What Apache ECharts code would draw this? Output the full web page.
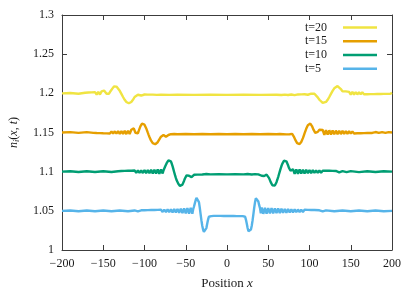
<!DOCTYPE html>
<html><head><meta charset="utf-8">
<script src="https://cdn.jsdelivr.net/npm/echarts@6/dist/echarts.min.js"></script>
<style>html,body{margin:0;padding:0;background:#fff}#c{width:415px;height:291px}</style>
</head><body><div id="c"></div>
<script>
const seriesNames = ['t=20', 't=15', 't=10', 't=5'];
const xTicks = [-200, -150, -100, -50, 0, 50, 100, 150, 200];
const yTicks = [1, 1.05, 1.1, 1.15, 1.2, 1.25, 1.3];

const t20 = [[-200,1.2],[-190,1.2005],[-180,1.1995],[-172,1.2008],[-170,1.1992],[-168,1.201],[-166,1.199],[-164,1.2012],[-162,1.1988],[-160,1.2015],[-158,1.1985],[-156,1.2018],[-154,1.1985],[-152,1.2025],[-151,1.2035],[-150,1.204],[-149,1.2035],[-148,1.2025],[-147,1.201],[-146,1.1995],[-145,1.1985],[-144,1.1985],[-143,1.1995],[-142,1.2015],[-141,1.203],[-140,1.2045],[-139,1.206],[-138,1.2075],[-137,1.2087],[-136,1.2093],[-135,1.209],[-134,1.2086],[-132,1.2064],[-130,1.2032],[-128,1.1993],[-126,1.1953],[-124,1.1917],[-122,1.189],[-120,1.1875],[-119,1.1873],[-118,1.1875],[-116,1.189],[-114,1.1917],[-112,1.1953],[-110,1.1975],[-108,1.1982],[-106,1.1978],[-104,1.1972],[-102,1.1978],[-100,1.1985],[-98,1.1978],[-96,1.1984],[-94,1.1979],[-90,1.1983],[-85,1.198],[-80,1.1982],[-70,1.198],[-60,1.1981],[-40,1.198],[-20,1.1981],[0,1.198],[20,1.1981],[40,1.198],[60,1.1981],[66,1.1979],[70,1.1984],[74,1.1978],[78,1.1985],[82,1.1977],[86,1.1986],[88,1.1976],[90,1.1987],[92,1.1976],[94,1.1988],[96,1.1978],[98,1.1982],[100,1.1988],[102,1.1995],[104,1.2001],[106,1.1995],[108,1.1975],[110,1.1948],[112,1.1918],[114,1.1893],[116,1.1877],[117,1.1873],[118,1.1875],[120,1.189],[122,1.1917],[124,1.1953],[126,1.1993],[128,1.2032],[130,1.2064],[132,1.2086],[134,1.2093],[136,1.2082],[138,1.2055],[140,1.2025],[142,1.2012],[144,1.2025],[145,1.2035],[146,1.2025],[148,1.2018],[150,1.1985],[152,1.2018],[154,1.1985],[156,1.2016],[158,1.1986],[160,1.2015],[162,1.1987],[164,1.2014],[166,1.1988],[168,1.2013],[170,1.1989],[172,1.2012],[174,1.199],[176,1.201],[178,1.199],[180,1.201],[182,1.1991],[184,1.2009],[186,1.1992],[188,1.2008],[190,1.1993],[192,1.2007],[194,1.1993],[196,1.2007],[198,1.1994],[200,1.2006]];

const t15 = [[-200,1.15],[-190,1.1505],[-180,1.1495],[-170,1.1505],[-162,1.1495],[-160,1.1507],[-158,1.1493],[-156,1.1508],[-154,1.1492],[-152,1.151],[-150,1.149],[-148,1.1511],[-146,1.1489],[-144,1.1512],[-142,1.1488],[-140,1.1514],[-138,1.1486],[-136,1.1515],[-134,1.1485],[-132,1.1517],[-130,1.1483],[-128,1.1518],[-126,1.1482],[-124,1.152],[-122,1.148],[-120,1.1522],[-118,1.148],[-116,1.1535],[-115,1.155],[-114,1.1558],[-113,1.1552],[-112,1.153],[-111,1.1497],[-110,1.1475],[-109,1.1472],[-108,1.149],[-107,1.152],[-106,1.155],[-105,1.1578],[-104,1.16],[-103,1.1612],[-102,1.1617],[-101,1.1613],[-100,1.16],[-99,1.158],[-98,1.1555],[-97,1.1527],[-96,1.1498],[-95,1.147],[-94,1.1443],[-93,1.1418],[-92,1.1396],[-91,1.1378],[-90,1.1364],[-89,1.1355],[-88,1.135],[-87,1.135],[-86,1.1353],[-85,1.1362],[-84,1.1376],[-83,1.1393],[-82,1.1412],[-81,1.143],[-80,1.1447],[-79,1.146],[-78,1.1467],[-77,1.1468],[-76,1.1462],[-75,1.1452],[-74,1.1446],[-73,1.1448],[-72,1.1458],[-71,1.1468],[-70,1.1475],[-68,1.1478],[-66,1.1474],[-64,1.148],[-60,1.1477],[-50,1.148],[-40,1.1478],[-30,1.148],[-20,1.1478],[-10,1.148],[0,1.1478],[10,1.148],[20,1.1478],[30,1.148],[40,1.1478],[50,1.148],[60,1.1477],[64,1.148],[66,1.1474],[68,1.1478],[70,1.1482],[72,1.1476],[74,1.1484],[76,1.1478],[78,1.1486],[79,1.1482],[80,1.1468],[81,1.1448],[82,1.1425],[83,1.1402],[84,1.138],[85,1.1364],[86,1.1354],[87,1.135],[88,1.1352],[89,1.1362],[90,1.1378],[91,1.14],[92,1.1428],[93,1.1458],[94,1.1488],[95,1.1518],[96,1.1547],[97,1.1572],[98,1.1593],[99,1.1608],[100,1.1616],[101,1.1614],[102,1.1602],[103,1.1582],[104,1.1558],[105,1.1533],[106,1.1511],[107,1.1496],[108,1.149],[109,1.1494],[110,1.1508],[111,1.1525],[112,1.1535],[113,1.1532],[114,1.1518],[116,1.1532],[118,1.147],[120,1.153],[122,1.1472],[124,1.1528],[126,1.1474],[128,1.1526],[130,1.1476],[132,1.1524],[134,1.1478],[136,1.1522],[138,1.148],[140,1.152],[142,1.1482],[144,1.1518],[146,1.1484],[148,1.1516],[150,1.1486],[152,1.1514],[154,1.1488],[156,1.1512],[158,1.149],[160,1.151],[162,1.1491],[164,1.1509],[166,1.1492],[168,1.1508],[170,1.1493],[172,1.1507],[176,1.1494],[180,1.1506],[184,1.1495],[188,1.1505],[192,1.1495],[196,1.1505],[200,1.15]];

const t10 = [[-200,1.1],[-190,1.1005],[-180,1.0995],[-170,1.1005],[-160,1.0995],[-150,1.1005],[-140,1.0995],[-132,1.1005],[-130,1.0993],[-128,1.1008],[-126,1.0992],[-124,1.101],[-122,1.099],[-120,1.1011],[-118,1.0989],[-116,1.1012],[-114,1.0988],[-112,1.1014],[-110,1.0986],[-108,1.1015],[-106,1.0985],[-104,1.1017],[-102,1.0983],[-100,1.1019],[-98,1.0981],[-96,1.1021],[-94,1.0979],[-92,1.1023],[-90,1.0977],[-88,1.1025],[-86,1.0975],[-84,1.1028],[-82,1.0974],[-80,1.103],[-78,1.0976],[-77,1.1015],[-76,1.104],[-75,1.1065],[-74,1.109],[-73,1.1112],[-72,1.113],[-71,1.1143],[-70,1.115],[-69,1.1146],[-68,1.113],[-67,1.1104],[-66,1.107],[-65,1.1032],[-64,1.0993],[-63,1.0955],[-62,1.092],[-61,1.089],[-60,1.0865],[-59,1.0845],[-58,1.0828],[-57,1.0818],[-56,1.0815],[-55,1.082],[-54,1.0835],[-53,1.0858],[-52,1.0885],[-51,1.0912],[-50,1.0935],[-49,1.0952],[-48,1.096],[-47,1.0958],[-46,1.0948],[-45,1.0937],[-44,1.093],[-43,1.093],[-42,1.0938],[-41,1.095],[-40,1.096],[-38,1.0968],[-36,1.0962],[-34,1.0969],[-30,1.0964],[-25,1.097],[-20,1.0965],[-10,1.0969],[0,1.0966],[10,1.0969],[20,1.0965],[25,1.097],[30,1.0964],[34,1.0969],[36,1.0962],[38,1.0966],[40,1.0958],[42,1.0948],[43,1.0942],[44,1.094],[45,1.0945],[46,1.0953],[47,1.096],[48,1.0962],[49,1.0955],[50,1.094],[51,1.0918],[52,1.0892],[53,1.0866],[54,1.0843],[55,1.0826],[56,1.0816],[57,1.0815],[58,1.0823],[59,1.0841],[60,1.0866],[61,1.0897],[62,1.0931],[63,1.0967],[64,1.1003],[65,1.1039],[66,1.1072],[67,1.11],[68,1.1123],[69,1.1139],[70,1.1147],[71,1.1145],[72,1.1132],[73,1.111],[74,1.1082],[75,1.1052],[76,1.1028],[77,1.1012],[78,1.1035],[79,1.0988],[80,1.1032],[82,1.0972],[84,1.103],[86,1.0974],[88,1.1028],[90,1.0976],[92,1.1025],[94,1.0978],[96,1.1023],[98,1.098],[100,1.1021],[102,1.0982],[104,1.1019],[106,1.0984],[108,1.1017],[110,1.0985],[112,1.1015],[114,1.0987],[116,1.1013],[118,1.0988],[120,1.1012],[122,1.0989],[124,1.1011],[126,1.099],[128,1.101],[130,1.0991],[132,1.1009],[136,1.0992],[140,1.1008],[145,1.0993],[150,1.1007],[160,1.0994],[170,1.1006],[180,1.0995],[190,1.1005],[200,1.1]];

const t5 = [[-200,1.05],[-190,1.0505],[-180,1.0495],[-170,1.0505],[-160,1.0495],[-150,1.0505],[-140,1.0495],[-130,1.0505],[-120,1.0495],[-112,1.0505],[-108,1.0494],[-104,1.0507],[-102,1.0493],[-100,1.0508],[-98,1.0492],[-96,1.0509],[-94,1.0491],[-92,1.051],[-90,1.049],[-88,1.0511],[-86,1.0489],[-84,1.0512],[-82,1.0488],[-80,1.0514],[-78,1.0486],[-76,1.0516],[-74,1.0484],[-72,1.0518],[-70,1.0482],[-68,1.052],[-66,1.048],[-64,1.0522],[-62,1.0478],[-60,1.0525],[-58,1.0475],[-56,1.0528],[-54,1.0472],[-52,1.0532],[-50,1.0468],[-48,1.0536],[-46,1.0464],[-44,1.054],[-42,1.0464],[-41,1.052],[-40,1.0555],[-39,1.0595],[-38,1.0635],[-37,1.0665],[-36,1.068],[-35,1.0662],[-34,1.0612],[-33,1.054],[-32,1.0458],[-31,1.0378],[-30,1.031],[-29,1.0262],[-28,1.0233],[-27,1.0225],[-26,1.024],[-25,1.028],[-24,1.0335],[-23,1.0385],[-22,1.0425],[-21,1.0445],[-20,1.0448],[-19,1.0432],[-18,1.0418],[-16,1.0435],[-14,1.0418],[-12,1.0436],[-10,1.0419],[-8,1.0435],[-6,1.042],[-4,1.0434],[-2,1.042],[0,1.0434],[2,1.042],[4,1.0435],[6,1.0419],[8,1.0434],[10,1.0418],[12,1.0433],[14,1.0417],[16,1.0432],[18,1.0418],[19,1.0432],[20,1.0448],[21,1.0445],[22,1.0425],[23,1.0385],[24,1.0335],[25,1.028],[26,1.024],[27,1.0225],[28,1.0233],[29,1.0262],[30,1.031],[31,1.0378],[32,1.0458],[33,1.054],[34,1.0612],[35,1.0662],[36,1.068],[37,1.0662],[38,1.062],[39,1.0572],[40,1.0535],[41,1.047],[42,1.0542],[44,1.0462],[46,1.0538],[48,1.0464],[50,1.0536],[52,1.0466],[54,1.0534],[56,1.0468],[58,1.0532],[60,1.047],[62,1.053],[64,1.0472],[66,1.0527],[68,1.0474],[70,1.0525],[72,1.0476],[74,1.0523],[76,1.0478],[78,1.0521],[80,1.048],[82,1.0519],[84,1.0482],[86,1.0517],[88,1.0484],[90,1.0515],[92,1.0486],[94,1.0513],[96,1.0488],[98,1.0512],[100,1.0489],[102,1.0511],[104,1.049],[106,1.051],[108,1.0492],[112,1.0507],[116,1.0494],[120,1.0506],[130,1.0495],[140,1.0505],[150,1.0495],[160,1.0505],[170,1.0495],[180,1.0505],[190,1.0495],[200,1.05]];

const colors = ['#f0e442', '#e69f00', '#009e73', '#56b4e9'];
const seriesData = [t20, t15, t10, t5];

const FF = 'Liberation Serif';
const TC = '#1a1a1a';
const AX = '#3c3c3c';
const chart = echarts.init(document.getElementById('c'), null, {renderer: 'canvas'});

function xAxisCfg(pos, labels) {
  return {
    type: 'value', position: pos, min: xTicks[0], max: xTicks[xTicks.length - 1],
    interval: xTicks[1] - xTicks[0],
    axisLine: {show: true, onZero: false, lineStyle: {color: AX, width: 1}},
    axisTick: {show: true, inside: true, length: 5, lineStyle: {color: AX, width: 1}},
    axisLabel: {show: labels, margin: 8, fontFamily: FF, fontSize: 12, color: TC,
      formatter: v => String(v).replace('-', '\u2212')},
    splitLine: {show: false}
  };
}
function yAxisCfg(pos, labels) {
  return {
    type: 'value', position: pos, min: yTicks[0], max: yTicks[yTicks.length - 1],
    interval: 0.05,
    axisLine: {show: true, onZero: false, lineStyle: {color: AX, width: 1}},
    axisTick: {show: true, inside: true, length: 5, lineStyle: {color: AX, width: 1}},
    axisLabel: {show: labels, margin: 8, fontFamily: FF, fontSize: 12, color: TC},
    splitLine: {show: false}
  };
}
const xb = xAxisCfg('bottom', true);
xb.name = '{r|Position }{i|x}';
xb.nameLocation = 'middle';
xb.nameGap = 27;
xb.nameTextStyle = {rich: {
  r: {fontFamily: FF, fontSize: 13, color: TC},
  i: {fontFamily: FF, fontSize: 13, color: TC, fontStyle: 'italic'}
}};
const yl = yAxisCfg('left', true);
yl.name = '{i|n}{s|i}{r|(}{i|x}{r|, }{i|t}{r|)}';
yl.nameLocation = 'middle';
yl.nameRotate = 90;
yl.nameGap = 41;
yl.nameTextStyle = {rich: {
  r: {fontFamily: FF, fontSize: 12, color: TC, lineHeight: 14},
  i: {fontFamily: FF, fontSize: 12, color: TC, fontStyle: 'italic', lineHeight: 14},
  s: {fontFamily: FF, fontSize: 8.5, color: TC, fontStyle: 'italic', lineHeight: 14, verticalAlign: 'bottom', padding: [4, 0, 0, 0]}
}};

chart.setOption({
  animation: false,
  backgroundColor: '#fff',
  grid: {left: 62, right: 23, top: 15, bottom: 41, containLabel: false, outerBoundsMode: 'none'},
  xAxis: [xb, xAxisCfg('top', false)],
  yAxis: [yl, yAxisCfg('right', false)],
  legend: {
    orient: 'vertical', right: 38, top: 21, align: 'right', padding: 0,
    itemWidth: 34, itemHeight: 2.5, itemGap: 1, icon: 'rect',
    data: seriesNames,
    formatter: '{a|{name}}',
    textStyle: {fontFamily: FF, fontSize: 12, color: TC, lineHeight: 12.8,
      rich: {a: {fontFamily: FF, fontSize: 12, color: TC, width: 33, align: 'left', lineHeight: 12.8}}}
  },
  series: seriesNames.map((n, k) => ({
    name: n, type: 'line', data: seriesData[k], symbol: 'none', showSymbol: false,
    xAxisIndex: 0, yAxisIndex: 0, clip: true,
    lineStyle: {color: colors[k], width: 2.4}, itemStyle: {color: colors[k]}
  }))
});
</script></body></html>
